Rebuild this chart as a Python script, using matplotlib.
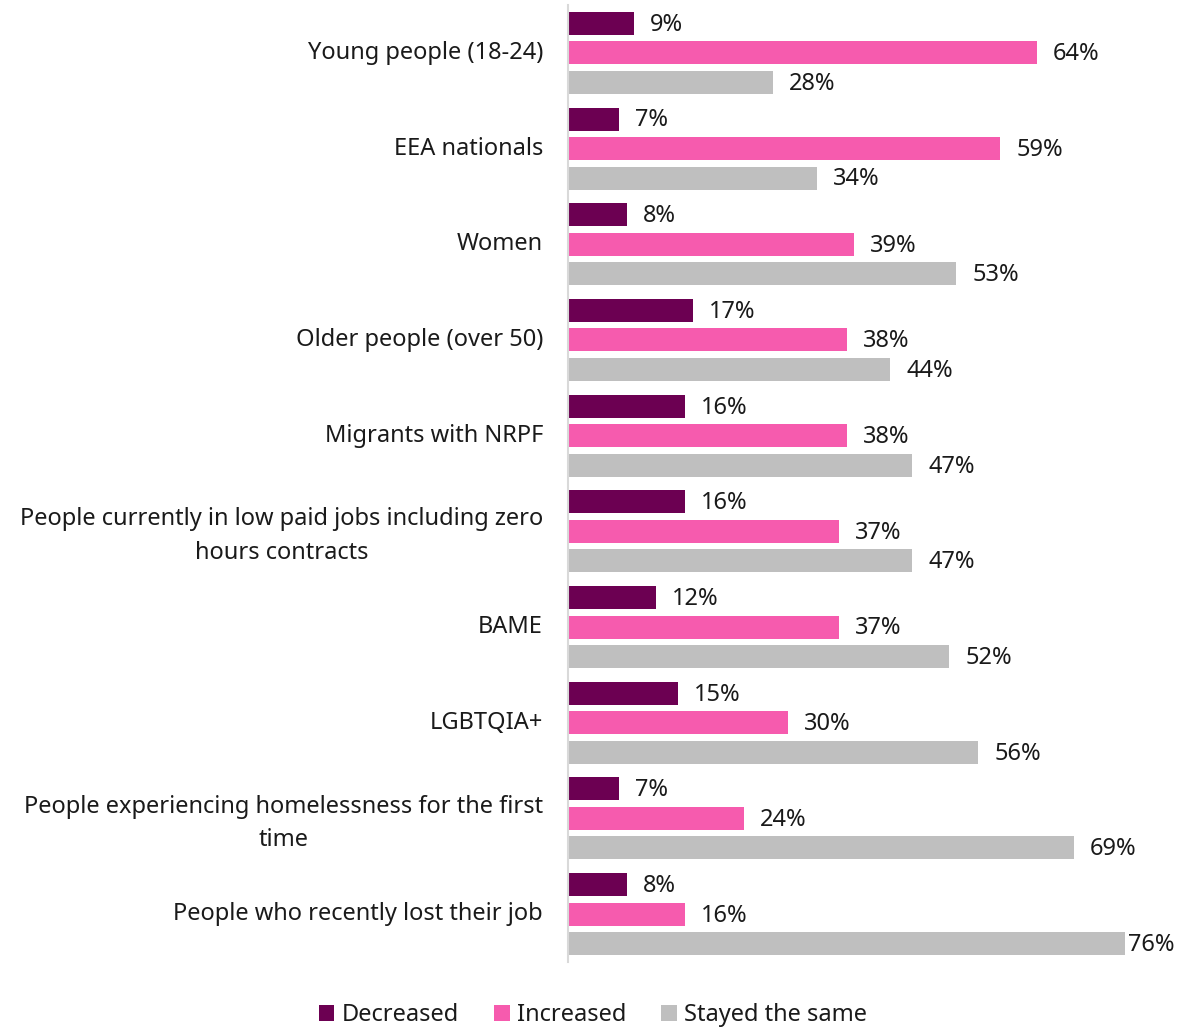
import numpy as np
import matplotlib
matplotlib.use('Agg')
import matplotlib.pyplot as plt
from matplotlib.patches import Patch

plt.rcParams['font.family'] = ['Noto Sans', 'DejaVu Sans']

groups = ['Young people (18-24)', 'EEA nationals', 'Women', 'Older people (over 50)',
          'Migrants with NRPF',
          'People currently in low paid jobs including zero\nhours contracts',
          'BAME', 'LGBTQIA+',
          'People experiencing homelessness for the first\ntime',
          'People who recently lost their job']
decreased = [9, 7, 8, 17, 16, 16, 12, 15, 7, 8]
increased = [64, 59, 39, 38, 38, 37, 37, 30, 24, 16]
same = [28, 34, 53, 44, 47, 47, 52, 56, 69, 76]

series = [('Decreased', decreased, '#6C0052'),
          ('Increased', increased, '#F65BAE'),
          ('Stayed the same', same, '#BFBFBF')]

fs = 17
fig = plt.figure(figsize=(11.82, 10.27), dpi=100)
ax = fig.add_axes([568 / 1182, 1 - 962 / 1027, (1125 - 568) / 1182, 957 / 1027])

y = np.arange(len(groups))
pitch = 0.308
height = 0.24
xmax = 76

for i, (name, vals, col) in enumerate(series):
    pos = y + (i - 1) * pitch
    ax.barh(pos, vals, height=height, color=col)
    for p, v in zip(pos, vals):
        # labels hitting the right edge get pulled in close to the bar
        off = 3 if v >= xmax else 16
        ax.annotate(f'{v}%', (v, p), xytext=(off * 0.72, -1), textcoords='offset points',
                    ha='left', va='center', fontsize=fs, color='#1a1a1a',
                    annotation_clip=False)

ax.set_xlim(0, xmax)
ax.set_ylim(len(groups) - 0.5, -0.5)
ax.set_xticks([])
# category labels sit a touch above the middle bar
ax.set_yticks(y - 0.03)
ax.set_yticklabels(groups, fontsize=fs, color='#1a1a1a', linespacing=1.55)
for lbl in ax.get_yticklabels():
    lbl.set_multialignment('center')
ax.tick_params(axis='y', length=0, pad=18)
for s in ['top', 'right', 'bottom']:
    ax.spines[s].set_visible(False)
ax.spines['left'].set_color('#D9D9D9')
ax.spines['left'].set_linewidth(1.5)

handles = [Patch(facecolor=c, label=n) for n, _, c in series]
fig.legend(handles=handles, loc='center', bbox_to_anchor=(593 / 1182, 1 - 1015 / 1027),
           ncol=3, frameon=False, fontsize=fs, handlelength=0.65, handleheight=0.65,
           handletextpad=0.3, columnspacing=1.5, labelcolor='#1a1a1a')

fig.savefig('out.png', dpi=100)
